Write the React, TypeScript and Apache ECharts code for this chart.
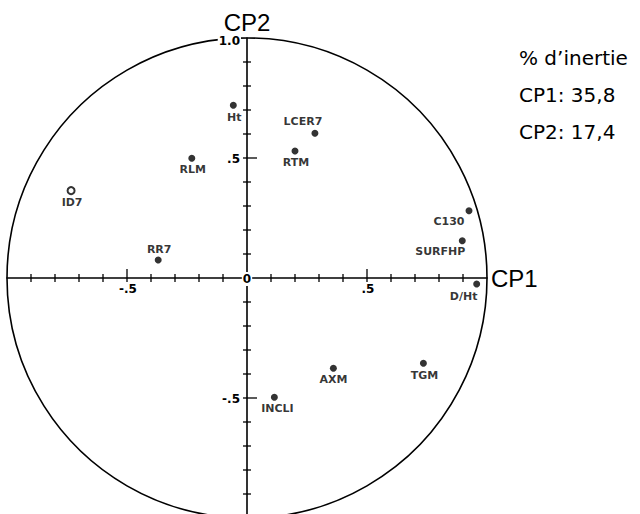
import React, { useEffect, useRef } from 'react';
import * as echarts from 'echarts';

// Variables on the correlation circle
const variables = ['Ht', 'LCER7', 'RTM', 'RLM', 'ID7', 'RR7', 'C130', 'SURFHP', 'D/Ht', 'TGM', 'AXM', 'INCLI'];
const cp1Values = [-0.057, 0.283, 0.2, -0.23, -0.733, -0.37, 0.925, 0.897, 0.957, 0.735, 0.36, 0.114];
const cp2Values = [0.72, 0.603, 0.529, 0.499, 0.364, 0.075, 0.28, 0.155, -0.025, -0.355, -0.376, -0.497];

// tick labels shown on the axes
const xTickValues = [-0.5, 0.5];
const xTickLabels = ['-.5', '.5'];
const yTickValues = [1, 0.5, -0.5];
const yTickLabels = ['1.0', '.5', '-.5'];
const inertiaLines = ['% d\u2019inertie', 'CP1: 35,8', 'CP2: 17,4'];
const axisTitles = { x: 'CP1', y: 'CP2' };

// label placement (pixels, relative to the dot)
const labelOffsets: Record<string, [number, number]> = {
  Ht: [1, 12],
  LCER7: [-12, -12],
  RTM: [1, 11],
  RLM: [1, 11],
  ID7: [1, 12],
  RR7: [1, -11],
  C130: [-20, 11],
  SURFHP: [-22, 11],
  'D/Ht': [-13, 12],
  TGM: [1, 12],
  AXM: [0, 11],
  INCLI: [3, 11],
};
const hollowPoints = new Set(['ID7']);

export default function App() {
  const ref = useRef<HTMLDivElement>(null);
  useEffect(() => {
    if (!ref.current) return;
    const chart = echarts.init(ref.current, null, { renderer: 'svg' });
    const labelFont = 'DejaVu Sans';
    const tickFont = 'bold 12px "DejaVu Sans"';
    const scatterData = variables.map((name, i) => {
      const hollow = hollowPoints.has(name);
      return {
        name,
        value: [cp1Values[i], cp2Values[i]],
        itemStyle: hollow
          ? { color: '#fff', borderColor: '#000', borderWidth: 2 }
          : { color: '#000' },
        label: { offset: labelOffsets[name] || [0, 11] },
      };
    });

    chart.setOption({
      animation: false,
      backgroundColor: '#fff',
      grid: { left: 7, top: 38, width: 480, height: 480, containLabel: false, outerBoundsMode: 'none' },
      xAxis: {
        type: 'value',
        min: -1,
        max: 1,
        interval: 0.1,
        name: axisTitles.x,
        nameLocation: 'end',
        nameGap: 4,
        nameTextStyle: { fontFamily: 'Liberation Sans', fontSize: 24, color: '#000', verticalAlign: 'middle' },
        axisLine: { show: true, onZero: true, lineStyle: { color: '#000', width: 1.6 } },
        axisTick: { show: false },
        splitLine: { show: false },
        axisLabel: { show: false },
      },
      yAxis: {
        type: 'value',
        min: -1,
        max: 1,
        interval: 0.1,
        name: axisTitles.y,
        nameLocation: 'end',
        nameGap: 4,
        nameTextStyle: { fontFamily: 'Liberation Sans', fontSize: 24, color: '#000', align: 'center' },
        axisLine: { show: true, onZero: true, lineStyle: { color: '#000', width: 1.6 } },
        axisTick: { show: false },
        splitLine: { show: false },
        axisLabel: { show: false },
      },
      graphic: inertiaLines.map((t, i) => ({
        type: 'text',
        left: 519,
        top: 48 + i * 37,
        style: { text: t, fill: '#000', font: '20px "DejaVu Sans"' },
      })),
      series: [
        {
          type: 'custom',
          z: -1,
          silent: true,
          data: [[0, 0]],
          renderItem: (params: any, api: any) => {
            const o = api.coord([0, 0]);
            const px = api.coord([1, 0])[0] - o[0];
            const py = o[1] - api.coord([0, 1])[1];
            const children: any[] = [
              {
                type: 'circle',
                shape: { cx: o[0], cy: o[1], r: (px + py) / 2 },
                style: { fill: 'none', stroke: '#000', lineWidth: 1.6 },
              },
            ];
            for (let i = -9; i <= 9; i++) {
              if (i === 0) continue;
              const t = i / 10;
              const major = Math.abs(i) === 5;
              const x = api.coord([t, 0])[0];
              children.push({
                type: 'line',
                shape: { x1: x, y1: o[1] - (major ? 9 : 4), x2: x, y2: o[1] + 4 },
                style: { stroke: '#000', lineWidth: 1.3 },
              });
              const y = api.coord([0, t])[1];
              children.push({
                type: 'line',
                shape: { x1: o[0] - 4, y1: y, x2: o[0] + (major ? 10 : 4), y2: y },
                style: { stroke: '#000', lineWidth: 1.3 },
              });
            }
            return { type: 'group', children };
          },
        },
        {
          type: 'custom',
          z: 5,
          silent: true,
          data: [[0, 0]],
          renderItem: (params: any, api: any) => {
            const o = api.coord([0, 0]);
            const children: any[] = [
              {
                type: 'text',
                x: o[0],
                y: o[1] + 1,
                style: {
                  text: '0',
                  fill: '#000',
                  font: tickFont,
                  align: 'center',
                  verticalAlign: 'middle',
                  backgroundColor: '#fff',
                  padding: [1, 1, 1, 1],
                },
              },
            ];
            xTickValues.forEach((v, i) => {
              const p = api.coord([v, 0]);
              children.push({
                type: 'text',
                x: p[0] + 1,
                y: p[1] + 11,
                style: { text: xTickLabels[i], fill: '#000', font: tickFont, align: 'center', verticalAlign: 'middle' },
              });
            });
            yTickValues.forEach((v, i) => {
              const p = api.coord([0, v]);
              children.push({
                type: 'text',
                x: p[0] - 6,
                y: p[1] + (v === 1 ? 3 : 1),
                style: {
                  text: yTickLabels[i],
                  fill: '#000',
                  font: tickFont,
                  align: 'right',
                  verticalAlign: 'middle',
                  backgroundColor: '#fff',
                  padding: [0, 1, 0, 1],
                },
              });
            });
            return { type: 'group', children };
          },
        },
        {
          type: 'scatter',
          z: 3,
          symbol: 'circle',
          symbolSize: 7,
          data: scatterData,
          label: {
            show: true,
            position: 'inside',
            formatter: (p: any) => p.name,
            fontFamily: labelFont,
            fontWeight: 'bold',
            fontSize: 11,
            color: '#000',
            align: 'center',
            verticalAlign: 'middle',
          },
        },
      ],
    });
    return () => chart.dispose();
  }, []);
  return (
    <div
      ref={ref}
      style={{ position: 'absolute', left: 0, top: 0, width: 640, height: 514, background: '#fff' }}
    />
  );
}
